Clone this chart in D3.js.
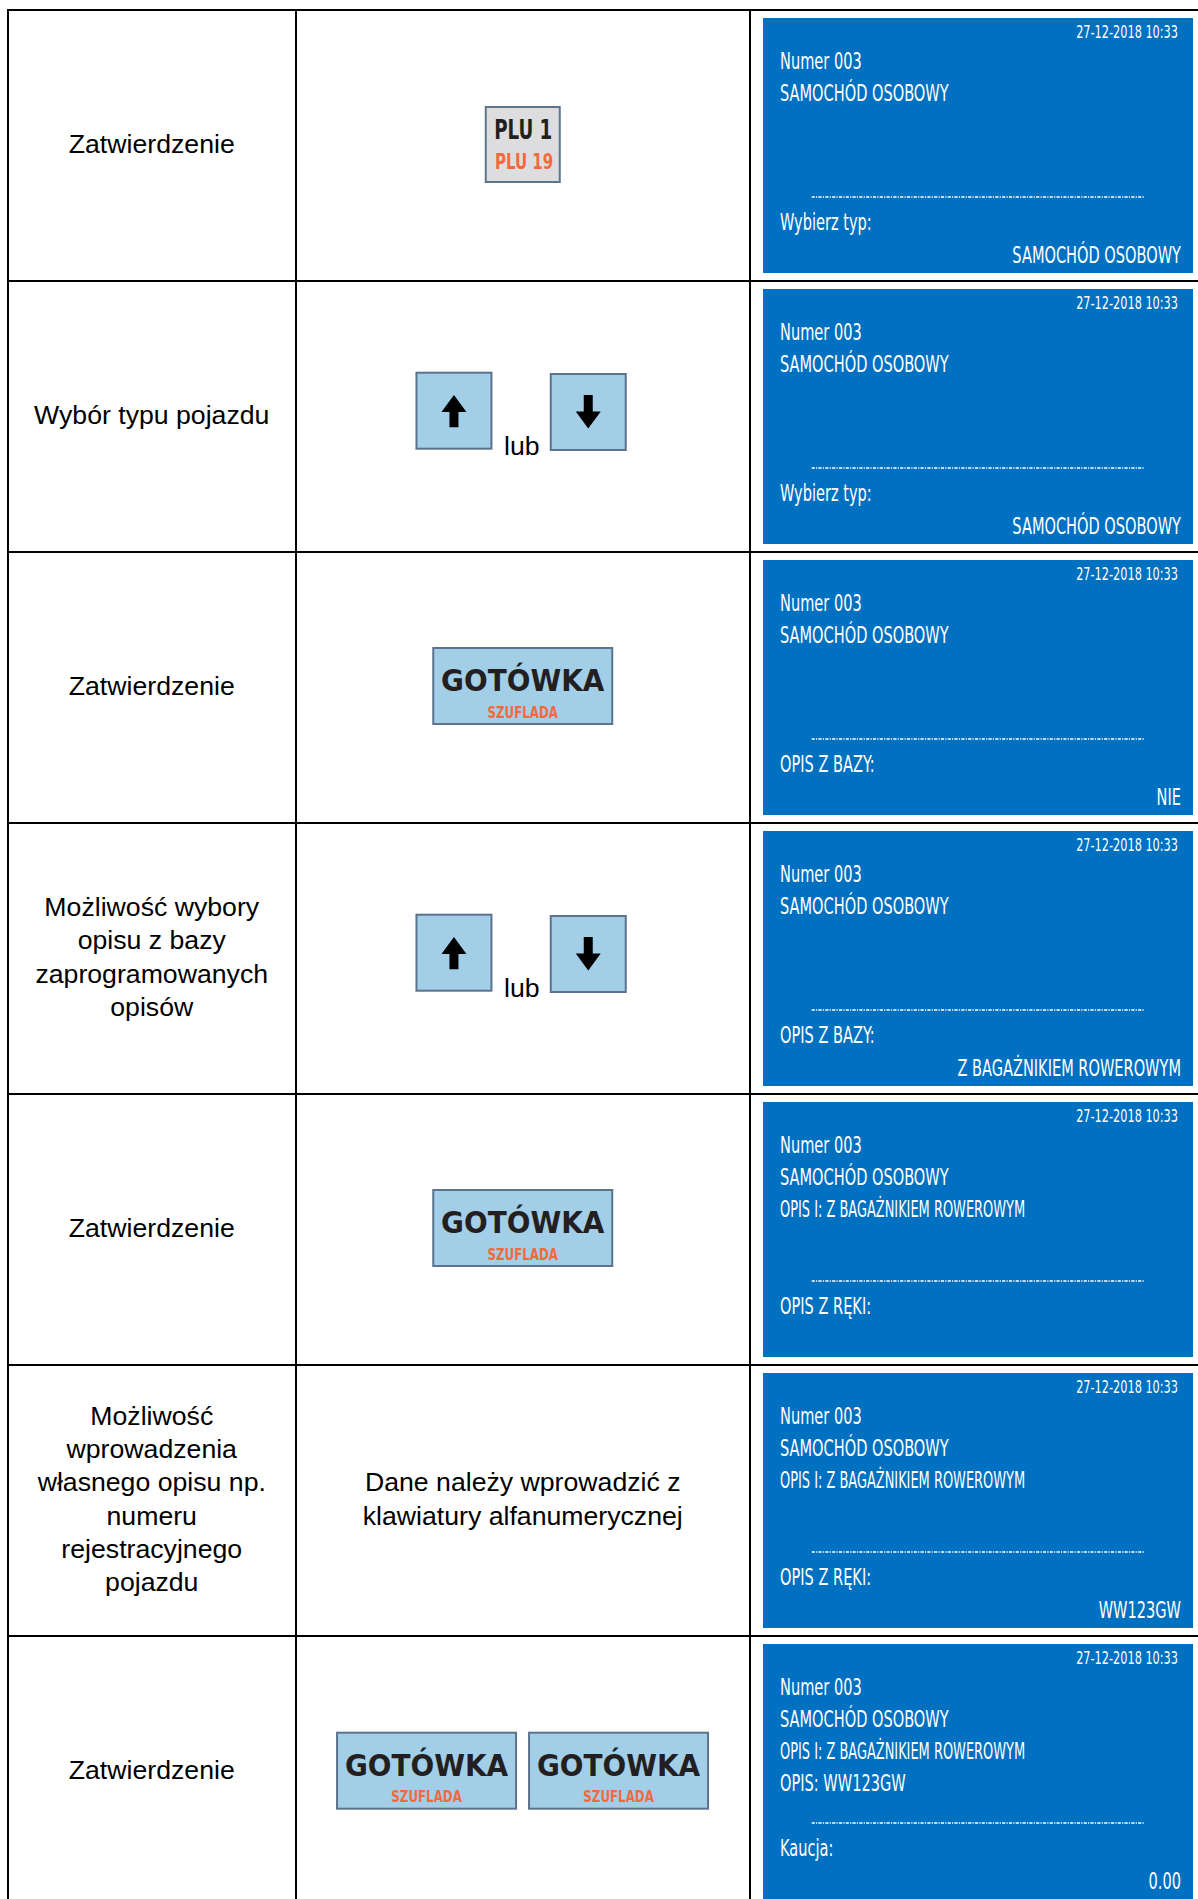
<!DOCTYPE html>
<html><head><meta charset="utf-8">
<script src="https://cdn.jsdelivr.net/npm/d3@7"></script>
<style>html,body{margin:0;padding:0;background:#fff}svg{display:block}</style>
</head><body>
<svg id="c" width="1198" height="1899"></svg>
<script>
// ---------- data ----------
const steps = [
  ["Zatwierdzenie"],
  ["Wybór typu pojazdu"],
  ["Zatwierdzenie"],
  ["Możliwość wybory", "opisu z bazy", "zaprogramowanych", "opisów"],
  ["Zatwierdzenie"],
  ["Możliwość", "wprowadzenia", "własnego opisu np.", "numeru", "rejestracyjnego", "pojazdu"],
  ["Zatwierdzenie"]
];
const actions = ["plu", "arrows", "cash", "arrows", "cash", "text", "cash2"];
const actionText = ["Dane należy wprowadzić z", "klawiatury alfanumerycznej"];
const pluLabels = ["PLU 1", "PLU 19"];
const cashLabels = ["GOTÓWKA", "SZUFLADA"];
const orLabel = "lub";
const screenDate = "27-12-2018 10:33";
const screenLines = [
  ["Numer 003", "SAMOCHÓD OSOBOWY"],
  ["Numer 003", "SAMOCHÓD OSOBOWY"],
  ["Numer 003", "SAMOCHÓD OSOBOWY"],
  ["Numer 003", "SAMOCHÓD OSOBOWY"],
  ["Numer 003", "SAMOCHÓD OSOBOWY", "OPIS I: Z BAGAŻNIKIEM ROWEROWYM"],
  ["Numer 003", "SAMOCHÓD OSOBOWY", "OPIS I: Z BAGAŻNIKIEM ROWEROWYM"],
  ["Numer 003", "SAMOCHÓD OSOBOWY", "OPIS I: Z BAGAŻNIKIEM ROWEROWYM", "OPIS: WW123GW"]
];
const screenPrompt = ["Wybierz typ:", "Wybierz typ:", "OPIS Z BAZY:", "OPIS Z BAZY:", "OPIS Z RĘKI:", "OPIS Z RĘKI:", "Kaucja:"];
const screenValue = ["SAMOCHÓD OSOBOWY", "SAMOCHÓD OSOBOWY", "NIE", "Z BAGAŻNIKIEM ROWEROWYM", "", "WW123GW", "0.00"];

// ---------- layout ----------
const W = 1198, H = 1899;
const svg = d3.select("#c");
svg.append("rect").attr("width", W).attr("height", H).attr("fill", "#fff");

const rows = d3.scaleBand().domain(d3.range(steps.length)).range([10, 10 + 271 * steps.length]).padding(0);
const colEdges = [8, 295.5, 750, 1210];
const colX = d3.scaleOrdinal().domain([0, 1, 2, 3]).range(colEdges);
const col1C = (colX(0) + colX(1)) / 2;
const col2C = (colX(1) + colX(2)) / 2;

const ARIAL = "'Liberation Sans', Arial, Helvetica, sans-serif";
const COND = "'DejaVu Sans Condensed', 'Liberation Sans Narrow', 'DejaVu Sans', sans-serif";
const BOLD = "'DejaVu Sans', 'DejaVu Sans Condensed', sans-serif";
const BLUE = "#0070c0", KEY = "#a3cee8", KEYB = "#5b738c", ORANGE = "#f26a3c", DARK = "#231f20";

// horizontally condensed text, drawn via a scale transform
function condText(parent, x, y, str, o) {
  const gg = parent.append("g").attr("transform", `translate(${x},${y}) scale(${o.k},1)`);
  const t = gg.append("text").attr("x", 0).attr("y", 0)
    .attr("text-anchor", o.anchor || "start")
    .attr("font-family", o.family || COND)
    .attr("font-size", o.size)
    .attr("fill", o.fill || "#fff")
    .text(str);
  if (o.weight) t.attr("font-weight", o.weight);
  return gg;
}

const g = svg.append("g");

// left column text
const LH = 33.3, FS = 26.67;
steps.forEach((lines, i) => {
  const cy = rows(i) + rows.bandwidth() / 2;
  const n = lines.length;
  g.append("g").selectAll("text").data(lines).join("text")
    .attr("x", col1C)
    .attr("y", (d, j) => cy + 7.5 + (j - (n - 1) / 2) * LH)
    .attr("text-anchor", "middle")
    .attr("font-family", ARIAL).attr("font-size", FS).attr("fill", "#000")
    .text(d => d);
});

// middle column
function cashKey(parent, x, y) {
  const k = parent.append("g").attr("transform", `translate(${x},${y})`);
  k.append("rect").attr("x", 0).attr("y", 0).attr("width", 179).attr("height", 76)
    .attr("fill", KEY).attr("stroke", KEYB).attr("stroke-width", 2);
  condText(k, 89.5, 43, cashLabels[0], {k: 0.93, anchor: "middle", family: BOLD, weight: "bold", size: 30, fill: DARK});
  condText(k, 89.5, 69.5, cashLabels[1], {k: 0.85, anchor: "middle", weight: "bold", size: 15.5, fill: ORANGE});
}
function arrowKey(parent, cx, top, up) {
  const k = parent.append("g");
  k.append("rect").attr("x", cx - 37.5).attr("y", top).attr("width", 75).attr("height", 76)
    .attr("fill", KEY).attr("stroke", KEYB).attr("stroke-width", 2);
  const hw = 12.5, sw = 4.5, hh = 17;
  const t = up ? top + 22.3 : top + 54.5;     // tip
  const e = up ? top + 54.5 : top + 21;       // shaft end
  const b = up ? t + hh : t - hh;              // head base
  const p = d3.path();
  p.moveTo(cx, t); p.lineTo(cx + hw, b); p.lineTo(cx + sw, b); p.lineTo(cx + sw, e);
  p.lineTo(cx - sw, e); p.lineTo(cx - sw, b); p.lineTo(cx - hw, b); p.closePath();
  k.append("path").attr("d", p.toString()).attr("fill", "#000");
}

actions.forEach((a, i) => {
  const top = rows(i);
  const cy = top + rows.bandwidth() / 2;
  if (a === "plu") {
    const k = g.append("g");
    k.append("rect").attr("x", col2C - 37).attr("y", top + 97).attr("width", 74).attr("height", 75)
      .attr("fill", "#dddddf").attr("stroke", "#5e7489").attr("stroke-width", 2);
    condText(k, col2C + 29.5, top + 128.5, pluLabels[0], {k: 0.78, anchor: "end", weight: "bold", size: 26, fill: DARK});
    condText(k, col2C + 30.5, top + 159, pluLabels[1], {k: 0.76, anchor: "end", weight: "bold", size: 22, fill: ORANGE});
  } else if (a === "arrows") {
    arrowKey(g, col2C - 68.8, top + 91.7, true);
    arrowKey(g, col2C + 65.5, top + 93, false);
    g.append("text").attr("x", col2C - 1).attr("y", top + 174).attr("text-anchor", "middle")
      .attr("font-family", ARIAL).attr("font-size", FS).attr("fill", "#000").text(orLabel);
  } else if (a === "cash") {
    cashKey(g, col2C - 89.5, top + 96);
  } else if (a === "cash2") {
    cashKey(g, col2C - 185.7, top + 96.7);
    cashKey(g, col2C + 6.3, top + 96.7);
  } else if (a === "text") {
    const n = actionText.length;
    g.append("g").selectAll("text").data(actionText).join("text")
      .attr("x", col2C).attr("y", (d, j) => cy + 7.5 + (j - (n - 1) / 2) * LH)
      .attr("text-anchor", "middle").attr("font-family", ARIAL).attr("font-size", FS).attr("fill", "#000")
      .text(d => d);
  }
});

// right column: display screens
const SX = 763, SW = 430, SH = 255;
const KS = 0.72;
const kFor = s => (s.length > 26 ? 0.64 : KS);
screenLines.forEach((lines, i) => {
  const top = rows(i) + 8;
  const s = g.append("g");
  s.append("rect").attr("x", SX).attr("y", top).attr("width", SW).attr("height", SH).attr("fill", BLUE);
  condText(s, 1178, top + 20, screenDate, {k: 0.74, anchor: "end", size: 17});
  lines.forEach((d, j) => condText(s, 780, top + 51 + j * 32, d, {k: kFor(d), size: 22.5}));
  s.append("line").attr("x1", 811.7).attr("x2", 1144).attr("y1", top + 179).attr("y2", top + 179)
    .attr("stroke", "#fff").attr("stroke-width", 1.6).attr("stroke-dasharray", "3.2,1.2,1.2,1.2");
  condText(s, 780, top + 212, screenPrompt[i], {k: KS, size: 22.5});
  if (screenValue[i]) {
    condText(s, 1181, top + 245, screenValue[i], {k: KS, anchor: "end", size: 22.5});
  }
});

// table grid
const grid = svg.append("g").attr("stroke", "#000").attr("stroke-width", 2).attr("shape-rendering", "crispEdges");
const hy = d3.range(steps.length).map(i => rows(i));
grid.selectAll("line.h").data(hy).join("line").attr("class", "h")
  .attr("x1", 7).attr("x2", W).attr("y1", d => d).attr("y2", d => d);
grid.selectAll("line.v").data([colX(0), colX(1), colX(2)]).join("line").attr("class", "v")
  .attr("x1", d => d).attr("x2", d => d).attr("y1", 9).attr("y2", H);
</script>
</body></html>
